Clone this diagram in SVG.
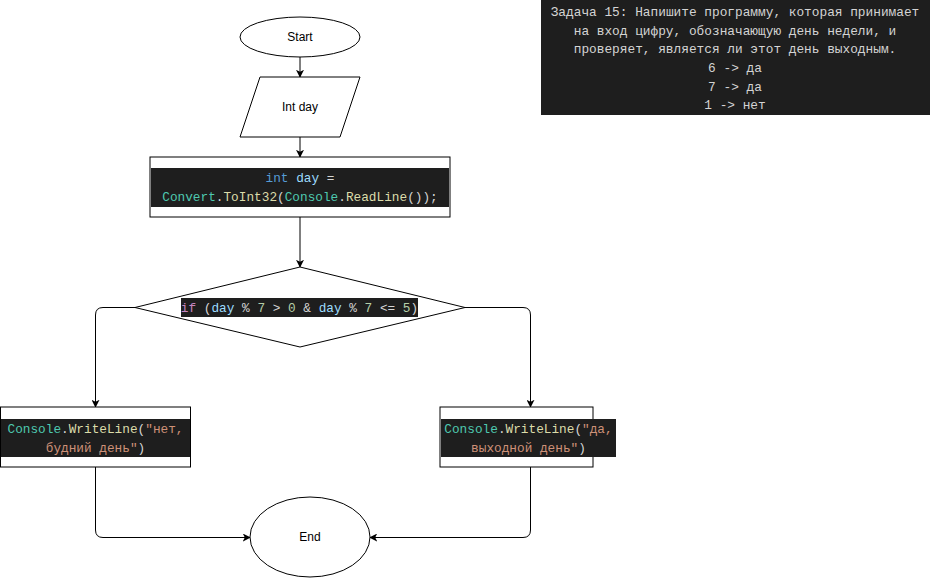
<svg xmlns="http://www.w3.org/2000/svg" width="931" height="578" viewBox="0 0 931 578">
<style>
.shape{fill:#ffffff;stroke:#000000;stroke-width:1}
.lbl{font-family:Helvetica,"Liberation Sans",Arial,sans-serif;font-size:12px;fill:#000000;text-anchor:middle}
.code{font-family:"Liberation Mono","DejaVu Sans Mono",monospace;font-size:12.75px;text-anchor:middle;fill:#d4d4d4}
.task{font-family:"Liberation Mono","DejaVu Sans Mono",monospace;font-size:12.8px;text-anchor:middle;fill:#d4d4d4}
.band{fill:#1e1e1e}
.kw{fill:#569cd6}.var{fill:#9cdcfe}.cls{fill:#4ec9b0}.fn{fill:#dcdcaa}.ctl{fill:#c586c0}.num{fill:#b5cea8}.str{fill:#ce9178}
.edge{fill:none;stroke:#000000;stroke-width:1;marker-end:url(#arr)}
</style>
<defs>
<marker id="arr" viewBox="0 0 10 10" refX="9" refY="5" markerWidth="8" markerHeight="8" orient="auto" markerUnits="userSpaceOnUse">
<path d="M0,0 L10,5 L0,10 L2.5,5 Z" fill="#000000"/>
</marker>
</defs>
<g id="task">
<rect class="band" x="541" y="0" width="389" height="115"/>
<text class="task" x="735" y="16">Задача 15: Напишите программу, которая принимает</text>
<text class="task" x="735" y="35">на вход цифру, обозначающую день недели, и</text>
<text class="task" x="735" y="53">проверяет, является ли этот день выходным.</text>
<text class="task" x="735" y="72">6 -&gt; да</text>
<text class="task" x="735" y="91">7 -&gt; да</text>
<text class="task" x="735" y="109">1 -&gt; нет</text>
</g>
<g id="connectors">
<path class="edge" d="M300,57 L300,77"/>
<path class="edge" d="M300,137 L300,157"/>
<path class="edge" d="M300,217 L300,267"/>
<path class="edge" d="M135,307.5 L103,307.5 Q95.5,307.5 95.5,315 L95.5,407"/>
<path class="edge" d="M465,307.5 L523,307.5 Q530.5,307.5 530.5,315 L530.5,407"/>
<path class="edge" d="M95.5,467 L95.5,530 Q95.5,537.5 103,537.5 L250,537.5"/>
<path class="edge" d="M530.5,467 L530.5,530 Q530.5,537.5 523,537.5 L370,537.5"/>
</g>
<g id="start">
<ellipse class="shape" cx="300" cy="37" rx="60" ry="20"/>
<text class="lbl" x="300" y="41">Start</text>
</g>
<g id="input">
<polygon class="shape" points="260,77 360,77 340,137 240,137"/>
<text class="lbl" x="300" y="111">Int day</text>
</g>
<g id="read">
<rect class="shape" x="150" y="157" width="300" height="60"/>
<rect class="band" x="151" y="168" width="298" height="39"/>
<text class="code" x="300" y="182"><tspan class="kw">int</tspan> <tspan class="var">day</tspan> =</text>
<text class="code" x="300" y="201"><tspan class="cls">Convert</tspan>.<tspan class="fn">ToInt32</tspan>(<tspan class="cls">Console</tspan>.<tspan class="fn">ReadLine</tspan>());</text>
</g>
<g id="cond">
<polygon class="shape" points="300,267 465,307.5 300,347 135,307.5"/>
<rect class="band" x="181" y="298" width="237" height="19"/>
<text class="code" x="299.5" y="312"><tspan class="ctl">if</tspan> (<tspan class="var">day</tspan> % <tspan class="num">7</tspan> &gt; <tspan class="num">0</tspan> &amp; <tspan class="var">day</tspan> % <tspan class="num">7</tspan> &lt;= <tspan class="num">5</tspan>)</text>
</g>
<g id="no">
<rect class="shape" x="0.5" y="407" width="190" height="60"/>
<rect class="band" x="1" y="419" width="189" height="38"/>
<text class="code" x="95.5" y="433"><tspan class="cls">Console</tspan>.<tspan class="fn">WriteLine</tspan>(<tspan class="str">"нет,</tspan></text>
<text class="code" x="95.5" y="452"><tspan class="str">будний день"</tspan>)</text>
</g>
<g id="yes">
<rect class="shape" x="440" y="407" width="153" height="60"/>
<rect class="band" x="441" y="419" width="175" height="38"/>
<text class="code" x="528.5" y="433"><tspan class="cls">Console</tspan>.<tspan class="fn">WriteLine</tspan>(<tspan class="str">"да,</tspan></text>
<text class="code" x="528.5" y="452"><tspan class="str">выходной день"</tspan>)</text>
</g>
<g id="end">
<ellipse class="shape" cx="310" cy="537" rx="60" ry="40"/>
<text class="lbl" x="310" y="541">End</text>
</g>
</svg>
